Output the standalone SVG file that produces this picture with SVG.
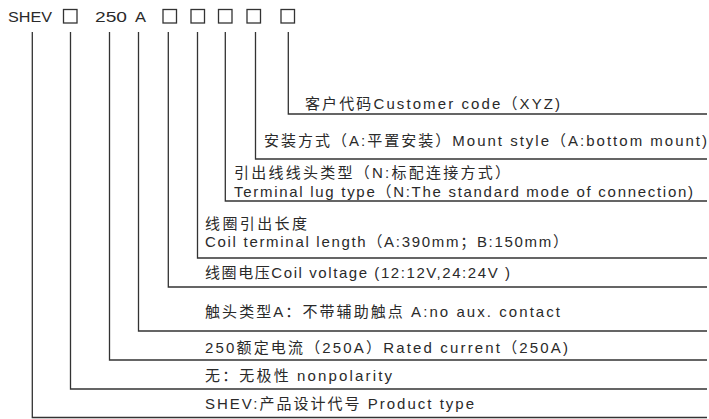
<svg xmlns="http://www.w3.org/2000/svg" width="709" height="419" viewBox="0 0 709 419">
<style>
.t{font-family:"Liberation Sans","Noto Sans CJK SC",sans-serif;font-size:15px;fill:#2a2a2a;}
.h{font-family:"Liberation Sans",Arial,sans-serif;font-size:15.5px;fill:#2a2a2a;}
.ln{fill:none;stroke:#333;stroke-width:1.3;}
.bx{fill:none;stroke:#333;stroke-width:1.3;}
</style>
<rect width="709" height="419" fill="#fff"/>
<g id="code">
<text class="h" x="8" y="22" textLength="44" lengthAdjust="spacingAndGlyphs">SHEV</text>
<rect class="bx" x="63.5" y="9.5" width="13.5" height="13.5"/>
<text class="h" x="95" y="22" textLength="32" lengthAdjust="spacingAndGlyphs">250</text>
<text class="h" x="135" y="22" textLength="11" lengthAdjust="spacingAndGlyphs">A</text>
<rect class="bx" x="163" y="9.5" width="13.5" height="13.5"/>
<rect class="bx" x="191" y="9.5" width="13.5" height="13.5"/>
<rect class="bx" x="218.5" y="9.5" width="13.5" height="13.5"/>
<rect class="bx" x="247" y="9.5" width="13.5" height="13.5"/>
<rect class="bx" x="281" y="9.5" width="13.5" height="13.5"/>
</g>
<g id="connectors">
<polyline class="ln" points="32.3,32 32.3,417.5 707,417.5"/>
<polyline class="ln" points="70.5,32 70.5,389 707,389"/>
<polyline class="ln" points="109.5,32 109.5,360 707,360"/>
<polyline class="ln" points="138.5,32 138.5,331 707,331"/>
<polyline class="ln" points="168.3,32 168.3,287 707,287"/>
<polyline class="ln" points="197.5,32 197.5,258 707,258"/>
<polyline class="ln" points="225.3,32 225.3,201 707,201"/>
<polyline class="ln" points="255.5,32 255.5,159 707,159"/>
<polyline class="ln" points="288.3,32 288.3,114 707,114"/>
</g>
<g id="n-customer"><text class="t" x="305" y="109" textLength="255" lengthAdjust="spacing">客户代码Customer code（XYZ)</text></g>
<g id="n-mount"><text class="t" x="264" y="146" textLength="443" lengthAdjust="spacing">安装方式（A:平置安装）Mount style（A:bottom mount)</text></g>
<g id="n-lug">
<text class="t" x="234" y="178" textLength="276" lengthAdjust="spacing">引出线线头类型（N:标配连接方式）</text>
<text class="t" x="234" y="197" textLength="459" lengthAdjust="spacing">Terminal lug type（N:The standard mode of connection)</text>
</g>
<g id="n-length">
<text class="t" x="205" y="229" textLength="102" lengthAdjust="spacing">线圈引出长度</text>
<text class="t" x="205" y="247" textLength="363" lengthAdjust="spacing">Coil terminal length（A:390mm；B:150mm）</text>
</g>
<g id="n-voltage"><text class="t" x="205" y="278" textLength="305" lengthAdjust="spacing">线圈电压Coil voltage (12:12V,24:24V )</text></g>
<g id="n-contact"><text class="t" x="205" y="317" textLength="355" lengthAdjust="spacing">触头类型A：不带辅助触点 A:no aux. contact</text></g>
<g id="n-current"><text class="t" x="205" y="353" textLength="363" lengthAdjust="spacing">250额定电流（250A）Rated current（250A)</text></g>
<g id="n-polarity"><text class="t" x="205" y="381" textLength="187" lengthAdjust="spacing">无：无极性 nonpolarity</text></g>
<g id="n-type"><text class="t" x="205" y="409" textLength="269" lengthAdjust="spacing">SHEV:产品设计代号 Product type</text></g>
</svg>
